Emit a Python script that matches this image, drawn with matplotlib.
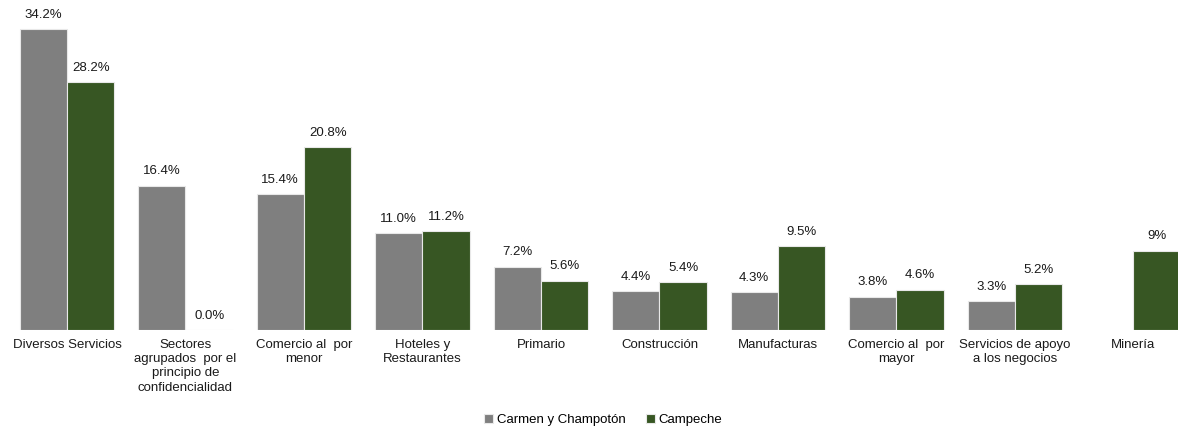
import numpy as np
import matplotlib.pyplot as plt

plt.rcParams['font.family'] = ['Liberation Sans', 'DejaVu Sans']

categorias = ['Diversos Servicios',
              'Sectores\nagrupados  por el\nprincipio de\nconfidencialidad',
              'Comercio al  por\nmenor',
              'Hoteles y\nRestaurantes',
              'Primario',
              'Construcción',
              'Manufacturas',
              'Comercio al  por\nmayor',
              'Servicios de apoyo\na los negocios',
              'Minería']
carmen = [34.2, 16.4, 15.4, 11.0, 7.2, 4.4, 4.3, 3.8, 3.3, None]
campeche = [28.2, 0.0, 20.8, 11.2, 5.6, 5.4, 9.5, 4.6, 5.2, 9.0]
etq_carmen = ['34.2%', '16.4%', '15.4%', '11.0%', '7.2%', '4.4%', '4.3%', '3.8%', '3.3%', '']
etq_campeche = ['28.2%', '0.0%', '20.8%', '11.2%', '5.6%', '5.4%', '9.5%', '4.6%', '5.2%', '9%']

gris = '#7f7f7f'
verde = '#375623'

fig = plt.figure(figsize=(11.78, 4.29), dpi=100)
ax = fig.add_axes([0, 99 / 429, 1, 330 / 429])

x = np.arange(len(categorias))
w = 0.4
vals_c = [v if v is not None else 0 for v in carmen]
mask = [v is not None for v in carmen]
b1 = ax.bar(x[mask] - w / 2, np.array(vals_c)[mask], w, color=gris,
            edgecolor='#e8e8e8', linewidth=0.8, label='Carmen y Champotón')
b2 = ax.bar(x + w / 2, campeche, w, color=verde,
            edgecolor='#e8e8e8', linewidth=0.8, label='Campeche')

for xi, v, t in zip(x, carmen, etq_carmen):
    if v is not None and t:
        ax.annotate(t, (xi - w / 2, v), xytext=(0, 6), textcoords='offset points',
                    ha='center', va='bottom', fontsize=9.5, color='#1a1a1a')
for xi, v, t in zip(x, campeche, etq_campeche):
    ax.annotate(t, (xi + w / 2, v), xytext=(0, 6), textcoords='offset points',
                ha='center', va='bottom', fontsize=9.5, color='#1a1a1a')

for xi, c in zip(x, categorias):
    ax.text(xi, -1.0, c, ha='center', va='top', fontsize=9.5, color='#1a1a1a',
            linespacing=1.25)

ax.set_xlim(-0.565, 9.376)
ax.set_ylim(0, 37.5)
ax.axis('off')

fig.legend(handles=[b1, b2], loc='center', bbox_to_anchor=(0.512, 9 / 429),
           ncol=2, frameon=False, fontsize=9.5, handlelength=0.7, handleheight=0.7,
           handletextpad=0.3, columnspacing=1.5)

fig.savefig('out.png', dpi=100)
